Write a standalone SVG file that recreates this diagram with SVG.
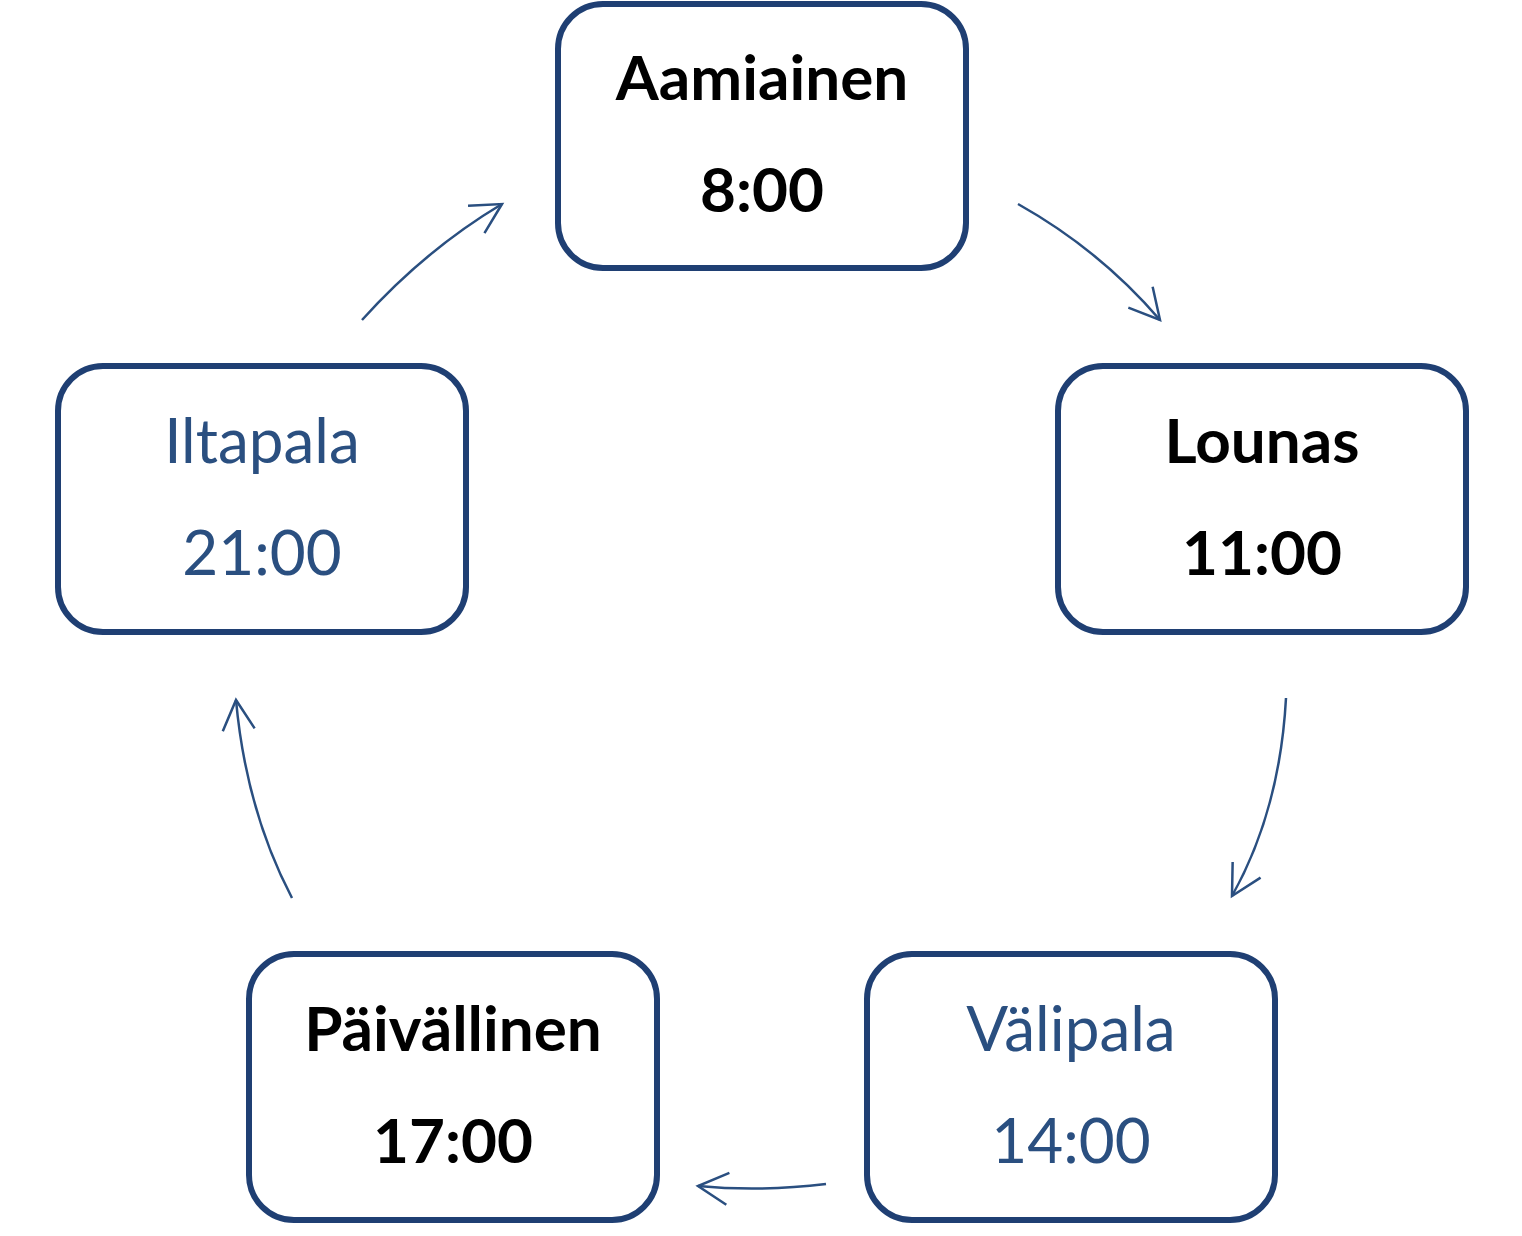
<svg xmlns="http://www.w3.org/2000/svg" width="1522" height="1236" viewBox="0 0 1522 1236">
<defs>
<style>
.box{fill:#fff;stroke:#1F3F73;stroke-width:6}
.b{font-family:Lato,"Open Sans",sans-serif;font-weight:bold;font-size:62px;fill:#000;text-anchor:middle}
.n{font-family:Lato,"Open Sans",sans-serif;font-size:62px;fill:#2A4F80;text-anchor:middle}
.c{fill:none;stroke:#2A4F80;stroke-width:2.5}
</style>
<marker id="ah" viewBox="0 0 20 20" refX="18" refY="10" markerWidth="20" markerHeight="20" markerUnits="userSpaceOnUse" orient="auto" overflow="visible">
<path d="M-12,-6 L18,10 L-12,26" fill="none" stroke="#2A4F80" stroke-width="2.5"/>
</marker>
</defs>
<rect width="1522" height="1236" fill="#fff"/>
<g id="connectors">
<path class="c" d="M1018,204 Q1100,250 1160,320" marker-end="url(#ah)"/>
<path class="c" d="M1286,698 Q1280,810 1232,896" marker-end="url(#ah)"/>
<path class="c" d="M826,1184 Q760,1192 698,1186" marker-end="url(#ah)"/>
<path class="c" d="M292,898 Q246,810 236,700" marker-end="url(#ah)"/>
<path class="c" d="M362,320 Q425,250 502,204" marker-end="url(#ah)"/>
</g>
<g id="aamiainen"><rect class="box" x="558" y="4" width="408" height="264" rx="45"/><text class="b" x="762" y="100">Aamiainen</text><text class="b" x="762" y="212">8:00</text></g>
<g id="lounas"><rect class="box" x="1058" y="366" width="408" height="266" rx="45"/><text class="b" x="1262" y="463">Lounas</text><text class="b" x="1262" y="575">11:00</text></g>
<g id="valipala"><rect class="box" x="867" y="954" width="408" height="266" rx="45"/><text class="n" x="1071" y="1051">Välipala</text><text class="n" x="1071" y="1163">14:00</text></g>
<g id="paivallinen"><rect class="box" x="249" y="954" width="408" height="266" rx="45"/><text class="b" x="453" y="1051">Päivällinen</text><text class="b" x="453" y="1163">17:00</text></g>
<g id="iltapala"><rect class="box" x="58" y="366" width="408" height="266" rx="45"/><text class="n" x="262" y="463">Iltapala</text><text class="n" x="262" y="575">21:00</text></g>
</svg>
